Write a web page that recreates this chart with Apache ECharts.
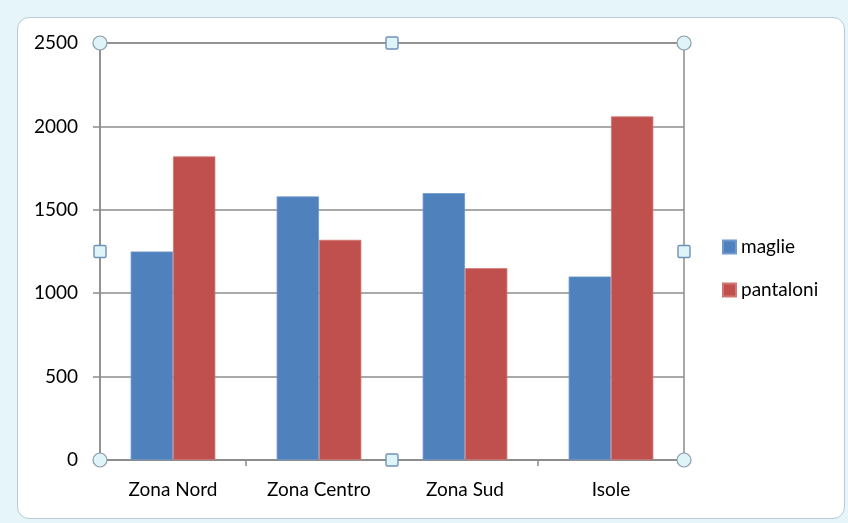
<!DOCTYPE html>
<html>
<head>
<meta charset="utf-8">
<script src="https://cdn.jsdelivr.net/npm/echarts@6/dist/echarts.min.js"></script>
<style>
  html, body { margin:0; padding:0; width:848px; height:523px; overflow:hidden;
    background:#e6f5f9; }
  #frame { position:absolute; left:17px; top:17px; width:826px; height:500px;
    background:#fff; border:1px solid #b8cbd4; border-radius:12px; }
  #main { position:absolute; left:0; top:0; width:848px; height:523px; }
</style>
</head>
<body>
<div id="frame"></div>
<div id="main"></div>
<script>
const categories = ['Zona Nord', 'Zona Centro', 'Zona Sud', 'Isole'];
const maglie = [1250, 1580, 1600, 1100];
const pantaloni = [1820, 1320, 1150, 2060];
const yTicks = { min: 0, max: 2500, interval: 500 };

const G = { left: 100, top: 43, right: 164, bottom: 63 };
const W = 848, H = 523;
const x0 = G.left, x1 = W - G.right, y0 = G.top, y1 = H - G.bottom;
const xm = (x0 + x1) / 2, ym = (y0 + y1) / 2;

function circ(cx, cy) {
  return { type: 'circle', shape: { cx: cx, cy: cy, r: 7 }, z: 100,
    style: { fill: '#dff4f8', stroke: '#8a9ba6', lineWidth: 1.2 } };
}
function sq(cx, cy) {
  return { type: 'rect', shape: { x: cx - 6, y: cy - 6, width: 12, height: 12, r: 1.5 }, z: 100,
    style: { fill: '#dff4f8', stroke: '#6e93b8', lineWidth: 1.4 } };
}

const chart = echarts.init(document.getElementById('main'));
chart.setOption({
  backgroundColor: 'transparent',
  animation: false,
  textStyle: { fontFamily: 'Lato' },
  grid: { left: G.left, top: G.top, right: G.right, bottom: G.bottom,
    show: true, borderColor: '#8c8c8c', borderWidth: 1.5, backgroundColor: 'transparent' },
  legend: {
    orient: 'vertical', left: 717, top: 232, itemWidth: 13, itemHeight: 13, itemGap: 23,
    icon: 'rect',
    textStyle: { fontSize: 19, lineHeight: 20, color: '#000', fontFamily: 'Lato' },
    data: ['maglie', 'pantaloni']
  },
  xAxis: {
    type: 'category', data: categories,
    axisLine: { lineStyle: { color: '#8c8c8c', width: 1.5 } },
    axisTick: { show: true, length: 6, lineStyle: { color: '#8c8c8c', width: 1.5 } },
    axisLabel: { fontSize: 19, color: '#000', margin: 20 }
  },
  yAxis: {
    type: 'value', min: yTicks.min, max: yTicks.max, interval: yTicks.interval,
    axisLine: { show: true, lineStyle: { color: '#8c8c8c', width: 1.5 } },
    axisTick: { show: true, length: 7, lineStyle: { color: '#8c8c8c', width: 1.5 } },
    splitLine: { lineStyle: { color: '#8c8c8c', width: 1.5 } },
    axisLabel: { fontSize: 19, color: '#000', margin: 22, formatter: function (v) { return String(v); } }
  },
  series: [
    { name: 'maglie', type: 'bar', data: maglie, barGap: '0%', barCategoryGap: '42%',
      itemStyle: { color: '#4f81bd', borderColor: '#6f98cc', borderWidth: 0.8 } },
    { name: 'pantaloni', type: 'bar', data: pantaloni, barGap: '0%', barCategoryGap: '42%',
      itemStyle: { color: '#c0504d', borderColor: '#d07774', borderWidth: 0.8 } }
  ],
  graphic: [
    circ(x0, y0), circ(x1, y0), circ(x0, y1), circ(x1, y1),
    sq(xm, y0), sq(xm, y1), sq(x0, ym), sq(x1, ym)
  ]
});
</script>
</body>
</html>
